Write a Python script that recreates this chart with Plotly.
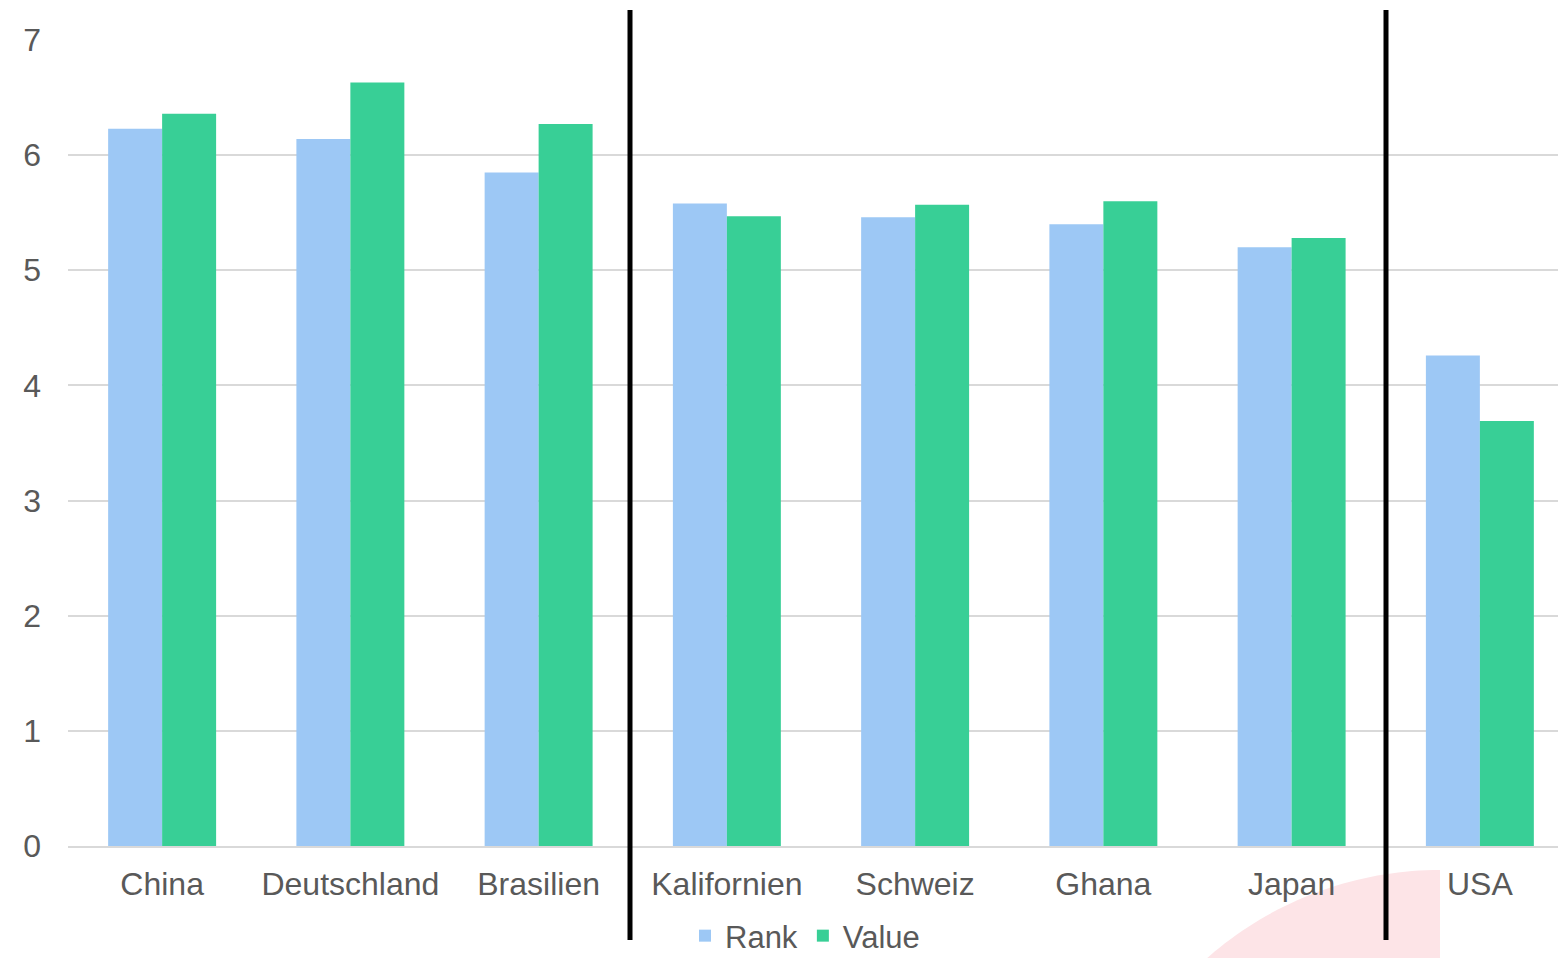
import numpy as np
import plotly.graph_objects as go

categories = ["China", "Deutschland", "Brasilien", "Kalifornien", "Schweiz", "Ghana", "Japan", "USA"]
rank_values = [6.23, 6.14, 5.85, 5.58, 5.46, 5.40, 5.20, 4.26]
value_values = [6.36, 6.63, 6.27, 5.47, 5.57, 5.60, 5.28, 3.69]
y_ticks = [0, 1, 2, 3, 4, 5, 6, 7]

W, H = 1558, 958
L, R, T, B = 68, 0, 40, 112
PW, PH = W - L - R, H - T - B

def px_x(px):
    return (px - L) / PW

def px_y(py):
    return (H - B - py) / PH

fig = go.Figure()
fig.add_trace(go.Bar(name="Rank", x=categories, y=rank_values, marker_color="#9DC8F5", marker_line_width=0))
fig.add_trace(go.Bar(name="Value", x=categories, y=value_values, marker_color="#38CF96", marker_line_width=0))

# decorative pink arc in the lower right
cx, cy, r = 1440, 1222, 352
ang = np.linspace(np.pi, np.pi / 2, 80)
pts = [(cx + r * np.cos(a), cy - r * np.sin(a)) for a in ang]
pts = [(x, y) for x, y in pts if y <= 1010]
path = "M{:.5f},{:.5f}".format(px_x(pts[0][0]), px_y(1010))
for x, y in pts:
    path += " L{:.5f},{:.5f}".format(px_x(x), px_y(y))
path += " L{:.5f},{:.5f} Z".format(px_x(cx), px_y(1010))

shapes = [
    dict(type="path", path=path, xref="paper", yref="paper", fillcolor="#FDE4E7",
         line=dict(width=0), layer="below"),
]
for lx in (630, 1386):
    shapes.append(dict(type="line", xref="paper", yref="paper",
                       x0=px_x(lx), x1=px_x(lx), y0=px_y(940), y1=px_y(10),
                       line=dict(color="black", width=5), layer="above"))

n = len(categories)
fig.update_layout(
    width=W, height=H,
    margin=dict(l=L, r=R, t=T, b=B, pad=0, autoexpand=False),
    paper_bgcolor="white", plot_bgcolor="white",
    barmode="group", bargap=0.4265, bargroupgap=0,
    font=dict(family="Liberation Sans, Arial, sans-serif", size=32, color="#595959"),
    shapes=shapes,
    legend=dict(orientation="h", x=px_x(805), xanchor="center", y=px_y(936), yanchor="middle",
                font=dict(size=31, color="#595959"), itemwidth=30, tracegroupgap=0,
                bgcolor="rgba(0,0,0,0)"),
    xaxis=dict(range=[-0.5, n - 0.5 - 16 / 188.3], showgrid=False, showline=True,
               linecolor="#D9D9D9", linewidth=2,
               ticks="", ticklabelstandoff=9, tickfont=dict(size=32, color="#595959")),
    yaxis=dict(range=[0, 7], tickvals=y_ticks, showgrid=True, gridcolor="#D9D9D9", gridwidth=2,
               zeroline=False, showline=False, ticks="", ticklabelstandoff=26,
               tickfont=dict(size=32, color="#595959")),
)

fig.write_html("out.html")
